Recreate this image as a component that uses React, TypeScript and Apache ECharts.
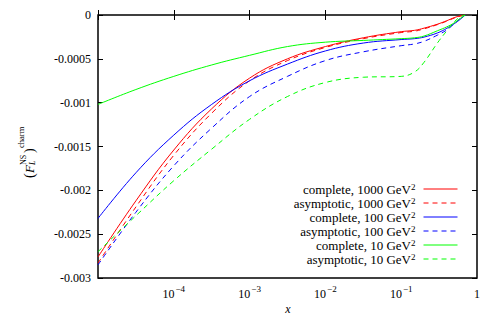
import React, { useEffect, useRef } from "react";
import * as echarts from "echarts";

// x grid (values on the log axis)
const xValues = [1e-5, 3.16e-5, 1e-4, 3.16e-4, 1e-3, 3.16e-3, 1e-2, 3.16e-2, 0.1, 0.15, 0.2, 0.3, 0.4, 0.5, 0.6, 0.7];

const complete1000 = [-0.00276, -0.00212, -0.00154, -0.00107, -0.00072, -0.0005, -0.00036, -0.00026, -0.00019, -0.000175, -0.00015, -0.000105, -0.000065, -0.00003, -0.00001, 0];
const asymptotic1000 = [-0.00283, -0.00219, -0.0016, -0.00112, -0.00075, -0.00052, -0.00037, -0.00027, -0.0002, -0.000185, -0.000158, -0.00011, -0.00007, -0.000035, -0.000012, 0];
const complete100 = [-0.00232, -0.0018, -0.00137, -0.00102, -0.00075, -0.00056, -0.00041, -0.00032, -0.00028, -0.00027, -0.000252, -0.000205, -0.000152, -0.0001, -0.00005, 0];
const asymptotic100 = [-0.00285, -0.00225, -0.00172, -0.00129, -0.00093, -0.0007, -0.00052, -0.00042, -0.00035, -0.00033, -0.0003, -0.00023, -0.00017, -0.0001, -0.00004, 0];
const complete10 = [-0.00102, -0.00085, -0.0007, -0.00057, -0.00046, -0.00036, -0.00031, -0.00029, -0.00027, -0.00026, -0.00024, -0.00018, -0.000135, -0.00009, -0.00004, 0];
const asymptotic10 = [-0.0027, -0.00229, -0.00189, -0.00153, -0.00119, -0.00093, -0.00077, -0.00071, -0.0007, -0.00065, -0.00054, -0.00032, -0.00018, -0.00008, -0.00002, 0];

const seriesNames = [
  "complete, 1000",
  "asymptotic, 1000",
  "complete, 100",
  "asymptotic, 100",
  "complete, 10",
  "asymptotic, 10",
];
const seriesValues = [complete1000, asymptotic1000, complete100, asymptotic100, complete10, asymptotic10];
const seriesColors = ["#ff0000", "#ff0000", "#0000ff", "#0000ff", "#00ff00", "#00ff00"];
const seriesDashed = [false, true, false, true, false, true];

const yMin = -0.003;
const yMax = 0;
const yStep = 0.0005;
const xMin = 1e-5;
const xMax = 1;

const FONT = "'Liberation Serif', 'DejaVu Serif', serif";

export default function App() {
  const ref = useRef<HTMLDivElement>(null);
  useEffect(() => {
    if (!ref.current) return;
    const chart = echarts.init(ref.current, null, { renderer: "svg" });
    const dashOf = (i: number) => (seriesDashed[i] ? [5, 4] : "solid");
    const series = seriesNames.map((name, i) => ({
      name,
      type: "line",
      data: xValues.map((x, j) => [x, seriesValues[i][j]]),
      showSymbol: false,
      symbol: "none",
      smooth: 0.4,
      color: seriesColors[i],
      lineStyle: {
        color: seriesColors[i],
        width: 1,
        type: dashOf(i),
      },
      xAxisIndex: 0,
      yAxisIndex: 0,
    }));

    const tickCommon = {
      inside: true,
      length: 5,
      lineStyle: { color: "#000", width: 1 },
    };

    chart.setOption({
      animation: false,
      backgroundColor: "#fff",
      grid: {
        left: 98,
        right: 19,
        top: 15,
        bottom: 41,
        show: true,
        borderColor: "#000",
        borderWidth: 1.5,
        backgroundColor: "transparent",
      },
      xAxis: [
        {
          type: "log",
          logBase: 10,
          min: xMin,
          max: xMax,
          axisLine: { show: false },
          axisTick: tickCommon,
          minorTick: { show: false },
          splitLine: { show: false },
          axisLabel: {
            margin: 6,
            color: "#000",
            fontFamily: FONT,
            fontSize: 12,
            formatter: (v: number) => {
              const e = Math.round(Math.log10(v));
              if (e === 0) return "{b|1}";
              if (e <= -5) return "";
              return "{b|10}{s|\u2212" + Math.abs(e) + "}";
            },
            rich: {
              b: { fontFamily: FONT, fontSize: 12, color: "#000", lineHeight: 16, verticalAlign: "bottom" },
              s: { fontFamily: FONT, fontSize: 9, color: "#000", lineHeight: 16, verticalAlign: "top", padding: [0, 0, 0, 1] },
            },
          },
        },
        {
          type: "log",
          logBase: 10,
          min: xMin,
          max: xMax,
          position: "top",
          axisLine: { show: false },
          axisTick: tickCommon,
          minorTick: { show: false },
          splitLine: { show: false },
          axisLabel: { show: false },
        },
      ],
      yAxis: [
        {
          type: "value",
          min: yMin,
          max: yMax,
          interval: yStep,
          axisLine: { show: false },
          axisTick: tickCommon,
          splitLine: { show: false },
          axisLabel: {
            margin: 7,
            color: "#000",
            fontFamily: FONT,
            fontSize: 12,
            formatter: (v: number) => (Math.abs(v) < 1e-12 ? "0" : String(Number(v.toFixed(4)))),
          },
        },
        {
          type: "value",
          min: yMin,
          max: yMax,
          interval: yStep,
          position: "right",
          axisLine: { show: false },
          axisTick: tickCommon,
          splitLine: { show: false },
          axisLabel: { show: false },
        },
      ],
      legend: {
        orient: "vertical",
        right: 33,
        top: 177.5,
        align: "right",
        itemWidth: 34,
        itemHeight: 10,
        itemGap: 1,
        data: seriesNames.map((n, i) => ({
          name: n,
          itemStyle: { opacity: 0, borderWidth: 0, color: seriesColors[i] },
          lineStyle: { color: seriesColors[i], width: 1, type: dashOf(i), opacity: 1 },
        })),
        textStyle: {
          fontFamily: FONT,
          fontSize: 13,
          color: "#000",
          rich: {
            t: { fontFamily: FONT, fontSize: 13, color: "#000", lineHeight: 13, verticalAlign: "bottom" },
            sup: { fontFamily: FONT, fontSize: 9, color: "#000", lineHeight: 13, verticalAlign: "top", padding: [0, 3, 0, 0] },
          },
        },
        formatter: (name: string) => "{t|" + name + " GeV}{sup|2}",
      },
      graphic: [
        {
          type: "group",
          x: 29,
          y: 147,
          rotation: Math.PI / 2,
          children: [
            { type: "text", x: -31, y: 0, style: { text: "(", font: "14px " + FONT, fill: "#000", textAlign: "left", textVerticalAlign: "middle" } },
            { type: "text", x: -26, y: 0, style: { text: "F", font: "italic 13px " + FONT, fill: "#000", textAlign: "left", textVerticalAlign: "middle" } },
            { type: "text", x: -18, y: -6, style: { text: "NS", font: "8px " + FONT, fill: "#000", textAlign: "left", textVerticalAlign: "middle" } },
            { type: "text", x: -18, y: 3.5, style: { text: "L", font: "italic 8px " + FONT, fill: "#000", textAlign: "left", textVerticalAlign: "middle" } },
            { type: "text", x: -6, y: 0, style: { text: ")", font: "14px " + FONT, fill: "#000", textAlign: "left", textVerticalAlign: "middle" } },
            { type: "text", x: -1, y: -8, style: { text: "charm", font: "8.5px " + FONT, fill: "#000", textAlign: "left", textVerticalAlign: "middle" } },
          ],
        },
        {
          type: "text",
          x: 288,
          y: 309,
          style: { text: "x", font: "italic 12px " + FONT, fill: "#000", textAlign: "center", textVerticalAlign: "middle" },
        },
      ],
      series,
    });
    return () => chart.dispose();
  }, []);
  return <div ref={ref} style={{ position: "fixed", left: 0, top: 0, width: 496, height: 319 }} />;
}
